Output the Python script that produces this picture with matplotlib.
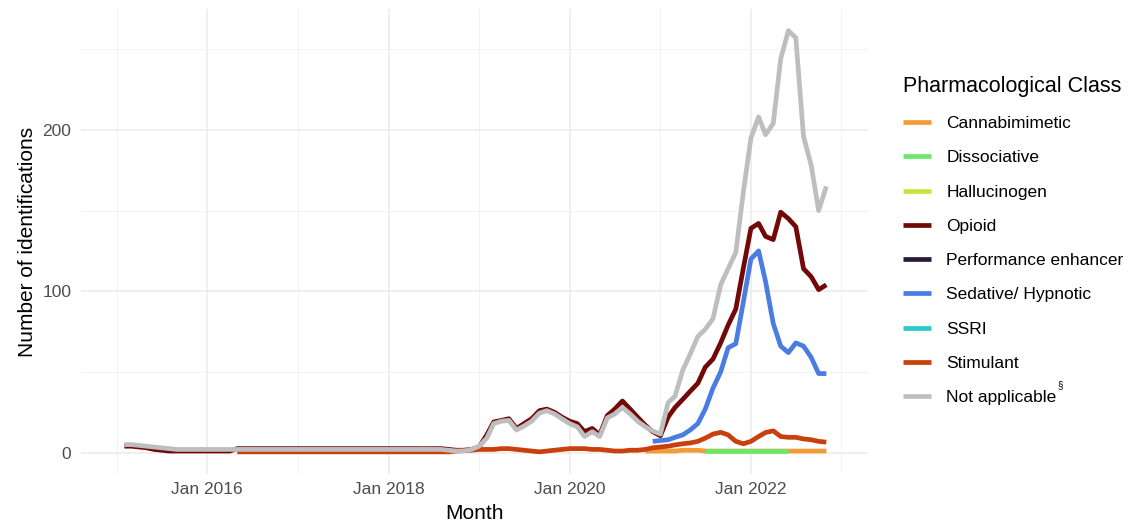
import matplotlib.pyplot as plt
import matplotlib.dates as mdates
import pandas as pd

plt.rcParams['font.family'] = ['Liberation Sans', 'DejaVu Sans']

# monthly identifications, Feb 2015 - Nov 2022
months = pd.date_range("2015-02-01", "2022-11-01", freq="MS")

not_applicable = [
    5, 5, 4.5, 4, 3.5, 3, 2.5, 2, 2, 2, 2,
    2, 2, 2, 2, 2, 2, 2, 2, 2, 2, 2, 2,
    2, 2, 2, 2, 2, 2, 2, 2, 2, 2, 2, 2,
    2, 2, 2, 2, 2, 2, 2, 2, 1.5, 1, 1, 2,
    4, 9, 18, 19.5, 20, 14, 16.5, 19.5, 24.5, 26, 24, 21,
    18, 16, 10, 13, 10, 21.5, 24, 28, 24, 19.5, 16, 13.5,
    11.5, 31, 35, 51, 61, 72, 76.5, 83, 104, 114, 124, 161,
    195, 208, 197, 204, 244, 261.5, 257, 196, 178, 150, 165,
]

opioid = [
    4, 4, 3.5, 3, 2, 1.5, 1, 1, 1, 1, 1,
    1, 1, 1, 1, 2.5, 2.5, 2.5, 2.5, 2.5, 2.5, 2.5, 2.5,
    2.5, 2.5, 2.5, 2.5, 2.5, 2.5, 2.5, 2.5, 2.5, 2.5, 2.5, 2.5,
    2.5, 2.5, 2.5, 2.5, 2.5, 2.5, 2.5, 2.5, 2, 1.5, 1.5, 2,
    3.5, 11, 19, 20, 21, 15, 18, 21, 26, 27, 25, 22,
    19.5, 18, 13, 15, 11, 23, 27, 32, 27, 22, 17, 13,
    10.5, 22, 28, 33, 38, 43, 53, 58, 68, 79, 89, 114,
    139, 142, 134, 132, 149, 145, 140, 114, 109, 101, 104,
]

# May 2016 - Nov 2022
stimulant = [
    0.5, 0.5, 0.5, 0.5, 0.5, 0.5, 0.5, 0.5,
    0.5, 0.5, 0.5, 0.5, 0.5, 0.5, 0.5, 0.5, 0.5, 0.5, 0.5, 0.5,
    0.5, 0.5, 0.5, 0.5, 0.5, 0.5, 0.5, 0.5, 0.5, 1, 1.5, 1.5,
    2, 2, 2, 2.5, 2.5, 2, 1.5, 1, 0.5, 1, 1.5, 2,
    2.5, 2.5, 2.5, 2, 2, 1.5, 1, 1, 1.5, 1.5, 2, 3,
    3.5, 4, 4.8, 5.5, 6, 7, 9, 11.5, 12.6, 11, 7, 5.5,
    7, 10, 12.5, 13.5, 10, 9.5, 9.5, 8.5, 8, 7, 6.5,
]

# Dec 2020 - Nov 2022
sedative = [
    7,
    7.5, 8, 9.5, 11, 14, 18, 27, 40, 50, 65, 67.5, 93,
    120, 125, 106, 80, 66, 62, 68, 66, 59, 49, 49,
]

# Nov 2020 - Nov 2022
cannabimimetic = [
    1, 1,
    1, 1, 1, 1.5, 1.5, 1.5, 1, 1, 1, 1, 1, 1,
    1, 1, 1, 1, 1, 1, 1, 1, 1, 1, 1,
]

# Jul 2021 - Jun 2022
dissociative = [1, 1, 1, 1, 1, 1, 1, 1, 1, 1, 1, 1]

# low counts that sit under the other lines
hallucinogen = [2, 2, 2]          # Jul - Sep 2017
performance_enhancer = [2, 2]     # Sep - Oct 2016
ssri = [2, 2]                     # May - Jun 2018

series = [
    ("Cannabimimetic", "#F39B36", "2020-11-01", cannabimimetic),
    ("Dissociative", "#6BE86B", "2021-07-01", dissociative),
    ("Hallucinogen", "#CBE23C", "2017-07-01", hallucinogen),
    ("Opioid", "#730808", "2015-02-01", opioid),
    ("Performance enhancer", "#2A1838", "2016-09-01", performance_enhancer),
    ("Sedative/ Hypnotic", "#4A7CE2", "2020-12-01", sedative),
    ("SSRI", "#2CC9CC", "2018-05-01", ssri),
    ("Stimulant", "#C9400C", "2016-05-01", stimulant),
    ("Not applicable", "#BEBEBE", "2015-02-01", not_applicable),
]

fig = plt.figure(figsize=(11.46, 5.23), dpi=100)
ax = fig.add_axes([81 / 1146, 1 - 473.8 / 523, 787 / 1146, 464.5 / 523])

for label, colour, start, values in series:
    dates = pd.date_range(start, periods=len(values), freq="MS")
    ax.plot(dates, values, color=colour, lw=3.4, label=label,
            solid_joinstyle='round', solid_capstyle='butt')

base = pd.Timestamp("2016-01-01")
ax.set_xlim(base - pd.Timedelta(days=509), base + pd.Timedelta(days=2664))
ax.set_ylim(-13.1, 274.7)

ax.xaxis.set_major_locator(mdates.YearLocator(2))
ax.xaxis.set_minor_locator(mdates.YearLocator(1))
ax.xaxis.set_major_formatter(mdates.DateFormatter("Jan %Y"))
ax.set_yticks([0, 100, 200])
ax.set_yticks([50, 150, 250], minor=True)

ax.grid(which='major', color='#EBEBEB', lw=1.1)
ax.grid(which='minor', color='#F2F2F2', lw=0.7)
ax.set_axisbelow(True)
for s in ax.spines.values():
    s.set_visible(False)
ax.tick_params(which='both', length=0, labelsize=12.5, labelcolor='#4D4D4D')
ax.tick_params(axis='y', pad=7)
ax.tick_params(axis='x', pad=6)

ax.set_xlabel("Month", fontsize=15, labelpad=5)
ax.set_ylabel("Number of identifications", fontsize=15, labelpad=4)

handles, labels = ax.get_legend_handles_labels()
leg = fig.legend(handles, labels, loc='upper left',
                 bbox_to_anchor=(903 / 1146, 1 - 76 / 523),
                 frameon=False, title="Pharmacological Class",
                 title_fontsize=15.5, fontsize=12.5,
                 handlelength=1.63, handletextpad=0.86, labelspacing=1.1,
                 borderpad=0, borderaxespad=0, alignment='left')

# footnote mark raised after the last legend entry
fig.canvas.draw()
bb = leg.get_texts()[-1].get_window_extent()
fig.text(bb.x1 + 1, bb.y1 + 2, "\u00a7", fontsize=7, ha='left',
         va='baseline', transform=None)

fig.savefig("out.png", dpi=100)
